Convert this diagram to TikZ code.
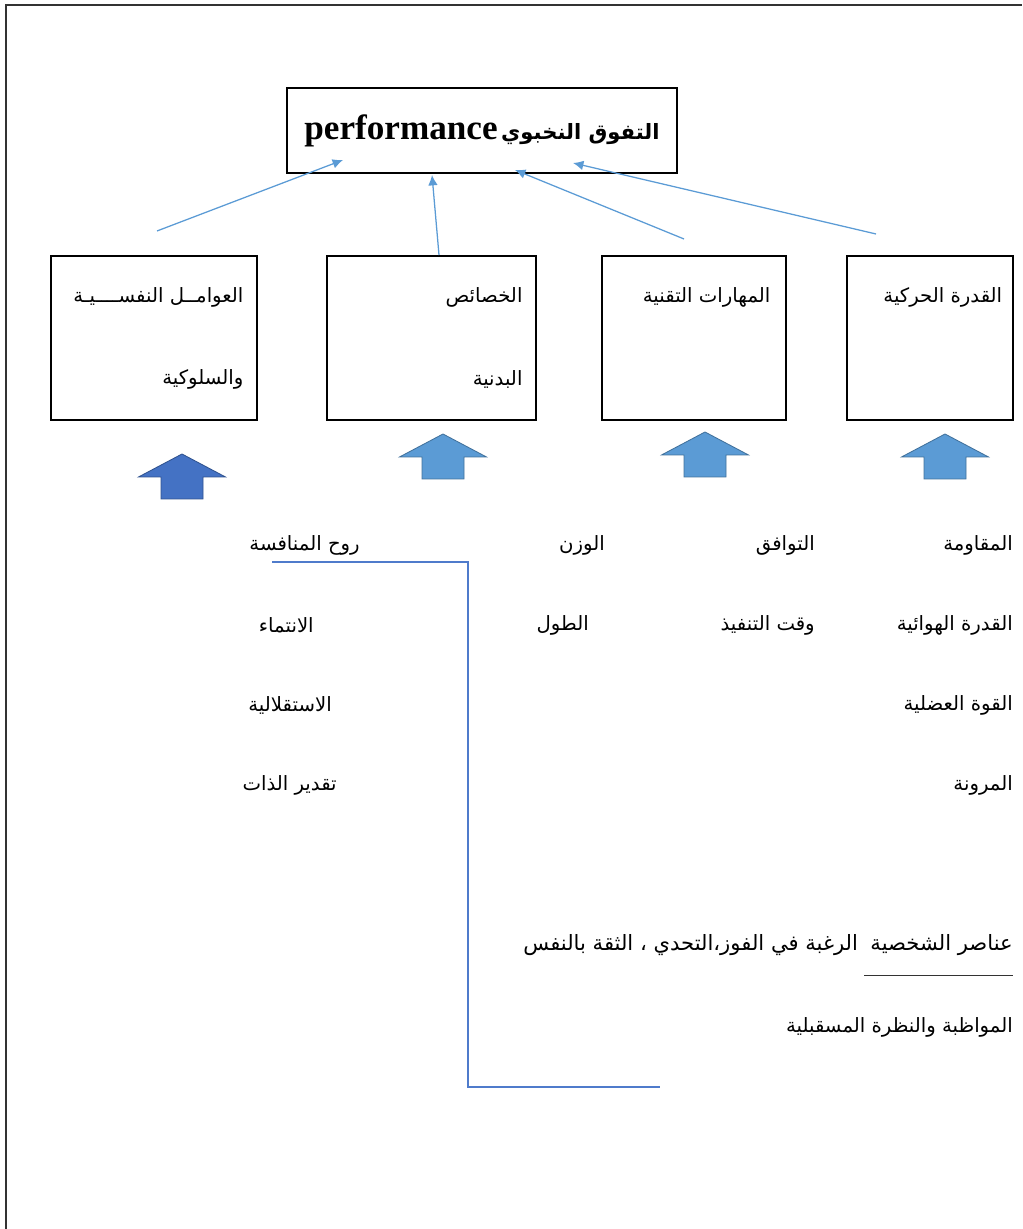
\documentclass[tikz,border=0pt]{standalone}
\usepackage{fontspec}
\usepackage{tikz}
\usetikzlibrary{arrows.meta,positioning}
\setmainfont{Liberation Serif}
\newfontfamily\arabicfont[Script=Arabic]{DejaVu Sans}
\TeXXeTstate=1
\definecolor{arrowblue}{HTML}{5B9BD5}
\definecolor{arrowedge}{HTML}{41719C}
\definecolor{darkblue}{HTML}{4472C4}
\definecolor{darkedge}{HTML}{2F528F}
\definecolor{lineblue}{HTML}{4F7BCB}
\newcommand{\artxt}[1]{{\arabicfont\beginR #1\endR}}
\tikzset{
	factorbox/.style={draw, line width=0.9pt, minimum height=4.1cm, inner sep=0pt},
	artext/.style={inner sep=0pt, font=\fontsize{14}{16}\selectfont},
	bigtext/.style={inner sep=0pt, font=\fontsize{15}{17}\selectfont},
	thinarrow/.style={-{Latex[length=2.6mm,width=2.4mm]}, arrowblue, line width=0.9pt},
	fatarrow/.pic={\path[pic actions] (-0.525,0) -- (0.525,0) -- (0.525,0.55) -- (1.0875,0.55) -- (0,1.125) -- (-1.0875,0.55) -- (-0.525,0.55) -- cycle;}
}
\begin{document}
\begin{tikzpicture}
	\useasboundingbox (0,0) rectangle (25.55,30.725);
	\draw[line width=1.4pt, black!80] (0.15,0) -- (0.15,30.6) -- (25.55,30.6);
	\node[draw, line width=0.9pt, minimum width=9.75cm, minimum height=2.125cm] (elite) at (12.05,27.46) {\beginR{\arabicfont\bfseries\fontsize{15}{18}\selectfont التفوق النخبوي} \beginL{\bfseries\fontsize{25}{28}\selectfont performance}\endL\endR};
	\node[factorbox, minimum width=5.15cm] (psych) at (3.85,22.275) {};
	\node[factorbox, minimum width=5.225cm] (phys) at (10.79,22.275) {};
	\node[factorbox, minimum width=4.6cm] (tech) at (17.35,22.275) {};
	\node[factorbox, minimum width=4.15cm] (motor) at (23.25,22.275) {};
	\node[artext, anchor=east] (psychA) at ([xshift=-0.35cm, yshift=-1.05cm]psych.north east) {\artxt{العوامــل النفســــيـة}};
	\node[artext, anchor=east] (psychB) at ([xshift=-0.35cm, yshift=-3.1cm]psych.north east) {\artxt{والسلوكية}};
	\node[artext, anchor=east] (physA) at ([xshift=-0.35cm, yshift=-1.05cm]phys.north east) {\artxt{الخصائص}};
	\node[artext, anchor=east] (physB) at ([xshift=-0.35cm, yshift=-3.1cm]phys.north east) {\artxt{البدنية}};
	\node[artext, anchor=east] (techA) at ([xshift=-0.4cm, yshift=-1.05cm]tech.north east) {\artxt{المهارات التقنية}};
	\node[artext, anchor=east] (motorA) at ([xshift=-0.28cm, yshift=-1.05cm]motor.north east) {\artxt{القدرة الحركية}};
	\coordinate (psychtail) at (3.925,24.95);
	\coordinate (psychtip) at (8.575,26.725);
	\coordinate (phystail) at (10.975,24.35);
	\coordinate (phystip) at (10.8,26.35);
	\coordinate (techtail) at (17.1,24.75);
	\coordinate (techtip) at (12.875,26.475);
	\coordinate (motortail) at (21.9,24.875);
	\coordinate (motortip) at (14.325,26.65);
	\draw[thinarrow] (psychtail) -- (psychtip);
	\draw[thinarrow] (phystail) -- (phystip);
	\draw[thinarrow] (techtail) -- (techtip);
	\draw[thinarrow] (motortail) -- (motortip);
	\pic[fill=darkblue, draw=darkedge, line width=0.6pt] at (4.55,18.25) {fatarrow};
	\pic[fill=arrowblue, draw=arrowedge, line width=0.6pt] at (11.075,18.75) {fatarrow};
	\pic[fill=arrowblue, draw=arrowedge, line width=0.6pt] at (17.625,18.8) {fatarrow};
	\pic[fill=arrowblue, draw=arrowedge, line width=0.6pt] at (23.625,18.75) {fatarrow};
	\node[artext, anchor=east] (endur) at (25.325,17.1) {\artxt{المقاومة}};
	\node[artext, anchor=east] (aero) at (25.325,15.1) {\artxt{القدرة الهوائية}};
	\node[artext, anchor=east] (strength) at (25.325,13.1) {\artxt{القوة العضلية}};
	\node[artext, anchor=east] (flex) at (25.325,11.1) {\artxt{المرونة}};
	\node[artext, anchor=east] (coord) at (20.375,17.1) {\artxt{التوافق}};
	\node[artext, anchor=east] (exec) at (20.375,15.1) {\artxt{وقت التنفيذ}};
	\node[artext, anchor=east] (weight) at (15.125,17.1) {\artxt{الوزن}};
	\node[artext, anchor=east] (stature) at (14.725,15.1) {\artxt{الطول}};
	\node[artext, anchor=east] (compet) at (9.0,17.1) {\artxt{روح المنافسة}};
	\node[artext, anchor=east] (belong) at (7.85,15.1) {\artxt{الانتماء}};
	\node[artext, anchor=east] (indep) at (8.3,13.1) {\artxt{الاستقلالية}};
	\node[artext, anchor=east] (esteem) at (8.425,11.1) {\artxt{تقدير الذات}};
	\coordinate (linestart) at (6.8,16.675);
	\coordinate (lineend) at (16.5,3.55);
	\draw[lineblue, line width=1.2pt] (linestart) -- ++(4.9,0) |- (lineend);
	\node[bigtext, anchor=east] (trait) at (25.325,7.1) {\artxt{عناصر الشخصية}};
	\node[bigtext, left=0.3cm of trait] (traitlist) {\artxt{الرغبة في الفوز،التحدي ، الثقة بالنفس}};
	\draw[line width=0.8pt, black!80] ([xshift=-0.15cm, yshift=-0.5cm]trait.south west) -- ([yshift=-0.5cm]trait.south east);
	\node[artext, anchor=east] (persev) at (25.325,5.05) {\artxt{المواظبة والنظرة المسقبلية}};
\end{tikzpicture}
\end{document}
